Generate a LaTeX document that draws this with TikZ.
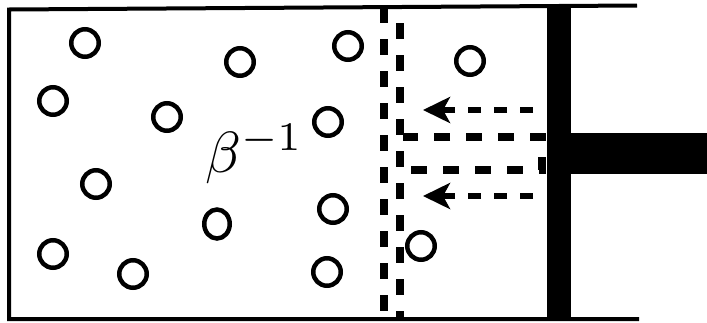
\documentclass[tikz,border=0pt]{standalone}
\usetikzlibrary{arrows.meta,shapes.geometric}

\tikzset{
  wall/.style={line width=4pt, line join=miter},
  mol/.style={circle, draw, line width=4.5pt, minimum size=27.5pt, inner sep=0pt},
  molv/.style={mol, ellipse, minimum width=25.5pt, minimum height=29pt},
  ghost/.style={line width=7.5pt, dash pattern=on 16pt off 16pt},
  push/.style={line width=6pt, dash pattern=on 13pt off 13pt,
    -{Stealth[length=27pt, width=26pt, inset=7pt]}},
  piston/.style={fill=black},
  label/.style={anchor=base west, inner sep=0pt}
}

\begin{document}
\begin{tikzpicture}[x=1pt, y=-1pt]
  \useasboundingbox (0,0) rectangle (707,322);

  % cylinder walls
  \coordinate (topR) at (637,5.5);
  \coordinate (topL) at (9,9.5);
  \coordinate (botL) at (9,319);
  \coordinate (botR) at (639,319);
  \draw[wall] (topR) -- (topL) -- (botL) -- (botR);

  % gas molecules
  \node[mol]  (m1)  at (85,43)   {};
  \node[mol]  (m2)  at (240,62)  {};
  \node[mol]  (m3)  at (348,46)  {};
  \node[mol]  (m4)  at (53,101)  {};
  \node[mol]  (m5)  at (167,117) {};
  \node[mol]  (m6)  at (328,122) {};
  \node[mol]  (m7)  at (96,184)  {};
  \node[molv] (m8)  at (217,224) {};
  \node[mol]  (m9)  at (333,209) {};
  \node[mol]  (m10) at (53,254)  {};
  \node[mol]  (m11) at (133,274) {};
  \node[mol]  (m12) at (327,272) {};
  \node[mol]  (m13) at (470,61)  {};
  \node[mol]  (m14) at (421,246) {};

  % temperature label
  \node[label] (temp) at (205,172) {\scalebox{5.8}{$\beta^{-1}$}};

  % earlier piston position (dashed outline)
  \draw[ghost] (384,7) -- (384,319);
  \draw[ghost, dash phase=16pt] (400,7) -- (400,319);
  \draw[ghost] (411,170) -- (542,170) -- (542,137) -- (403,137);

  % piston
  \fill[piston] (547,4) rectangle (571,321);
  \fill[piston] (571,133) rectangle (707,174);

  % compression arrows
  \coordinate (a1s) at (533,110);
  \coordinate (a1e) at (423,110);
  \coordinate (a2s) at (533,196);
  \coordinate (a2e) at (423,196);
  \draw[push] (a1s) -- (a1e);
  \draw[push] (a2s) -- (a2e);
\end{tikzpicture}
\end{document}
